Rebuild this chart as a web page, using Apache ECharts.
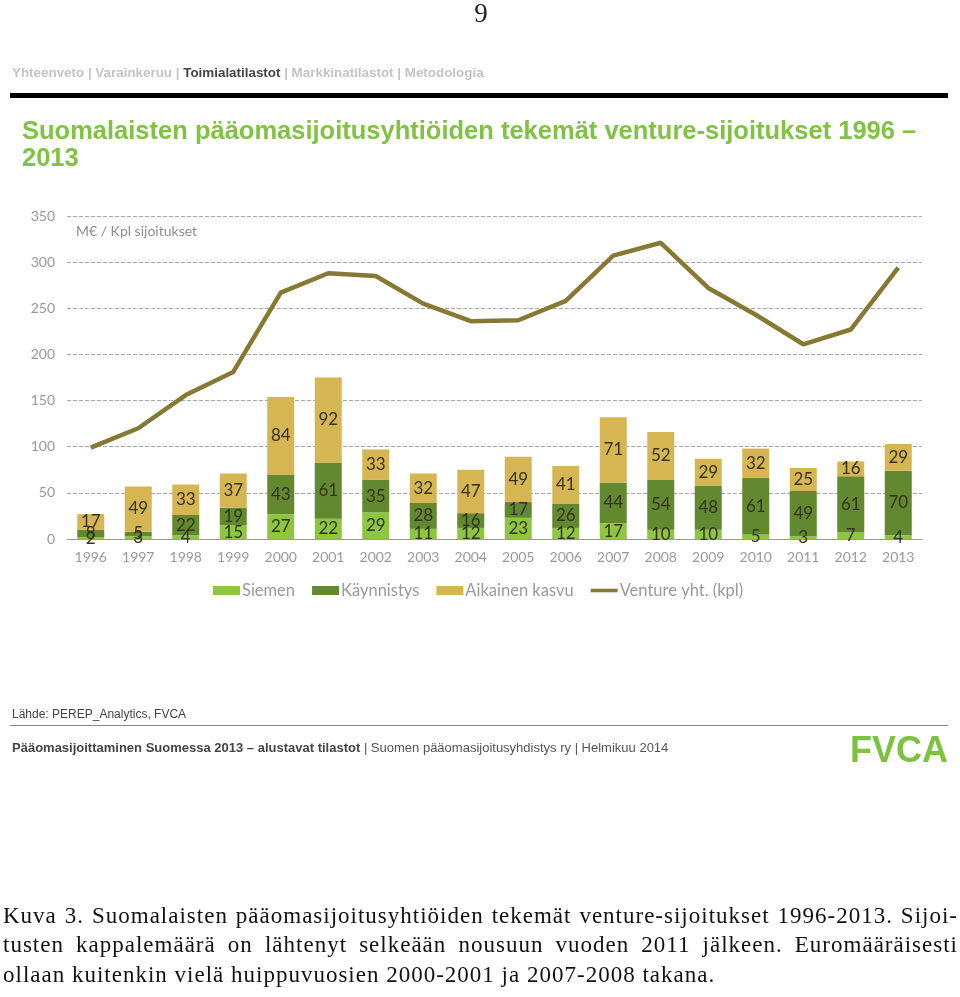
<!DOCTYPE html>
<html>
<head>
<meta charset="utf-8">
<script src="https://cdn.jsdelivr.net/npm/echarts@6/dist/echarts.min.js"></script>
<style>
  html, body { margin: 0; padding: 0; background: #fff; }
  body { width: 960px; height: 997px; position: relative; overflow: hidden; }
  #chart { position: absolute; left: 0; top: 0; width: 960px; height: 997px; }
  .abs { position: absolute; white-space: nowrap; }
  #pagenum { left: 0; width: 962px; text-align: center; top: -2px; font-family: "Liberation Serif", "DejaVu Serif", serif; font-size: 27px; color: #222; }
  #nav { left: 12px; top: 65px; font-family: "Liberation Sans", sans-serif; font-weight: bold; font-size: 13.4px; color: #c4c4c4; }
  #nav b { color: #444; }
  #rule { left: 10px; top: 93px; width: 938px; height: 5px; background: #000; }
  #title { left: 22px; top: 117px; font-family: "Liberation Sans", sans-serif; font-weight: bold; font-size: 25.5px; line-height: 27px; color: #80c342; white-space: normal; width: 930px; }
  #unit { left: 76px; top: 222px; font-family: "Lato", "Liberation Sans", sans-serif; font-size: 14px; color: #8c8c8c; }
  #src { left: 12px; top: 707px; font-family: "Liberation Sans", sans-serif; font-size: 12px; color: #444; }
  #rule2 { left: 10px; top: 725px; width: 938px; height: 1px; background: #888; }
  #foot { left: 12px; top: 740px; font-family: "Liberation Sans", sans-serif; font-size: 13px; color: #555; }
  #foot b { color: #444; }
  #fvca { left: 850px; top: 729px; font-family: "Liberation Sans", sans-serif; font-weight: bold; font-size: 36px; color: #7dc242; }
  .cap { left: 3px; width: 955px; font-family: "Liberation Serif", "DejaVu Serif", serif; font-size: 23px; letter-spacing: 1.0px; color: #111; white-space: nowrap; text-align: justify; text-align-last: justify; }
  .cap.last { text-align-last: left; }
</style>
</head>
<body>
<div id="chart"></div>
<div class="abs" id="pagenum">9</div>
<div class="abs" id="nav">Yhteenveto | Varainkeruu | <b>Toimialatilastot</b> | Markkinatilastot | Metodologia</div>
<div class="abs" id="rule"></div>
<div class="abs" id="title">Suomalaisten pääomasijoitusyhtiöiden tekemät venture-sijoitukset 1996 –<br>2013</div>
<div class="abs" id="unit">M€ / Kpl sijoitukset</div>
<div class="abs" id="src">Lähde: PEREP_Analytics, FVCA</div>
<div class="abs" id="rule2"></div>
<div class="abs" id="foot"><b>Pääomasijoittaminen Suomessa 2013 – alustavat tilastot</b> | Suomen pääomasijoitusyhdistys ry | Helmikuu 2014</div>
<div class="abs" id="fvca">FVCA</div>
<div class="abs cap" style="top:903px;">Kuva 3. Suomalaisten pääomasijoitusyhtiöiden tekemät venture-sijoitukset 1996-2013. Sijoi-</div>
<div class="abs cap" style="top:932px;">tusten kappalemäärä on lähtenyt selkeään nousuun vuoden 2011 jälkeen. Euromääräisesti</div>
<div class="abs cap last" style="top:962px;">ollaan kuitenkin vielä huippuvuosien 2000-2001 ja 2007-2008 takana.</div>
<script>
const years = ['1996','1997','1998','1999','2000','2001','2002','2003','2004','2005','2006','2007','2008','2009','2010','2011','2012','2013'];
const siemen = [2,3,4,15,27,22,29,11,12,23,12,17,10,10,5,3,7,4];
const kaynnistys = [8,5,22,19,43,61,35,28,16,17,26,44,54,48,61,49,61,70];
const aikainenKasvu = [17,49,33,37,84,92,33,32,47,49,41,71,52,29,32,25,16,29];
const ventureKpl = [99,120,156,181,267,288,285,255,236,237,258,307,321,272,243,211,227,294];
const yTicks = { min: 0, max: 350, interval: 50 };
const seriesNames = ['Siemen','Käynnistys','Aikainen kasvu','Venture yht. (kpl)'];

const chart = echarts.init(document.getElementById('chart'), null, { renderer: 'canvas' });
const font = 'Lato, "Liberation Sans", sans-serif';
const barLabel = { show: true, position: 'inside', color: '#35331f', fontSize: 17, fontFamily: font };
function barSeries(name, data, color) {
  return { name, type: 'bar', stack: 'v', data, barWidth: 27, itemStyle: { color }, label: barLabel, z: 2 };
}
chart.setOption({
  animation: false,
  grid: { left: 67, right: 38, top: 216, bottom: 458, containLabel: false },
  legend: {
    left: 208, top: 577, itemWidth: 27, itemHeight: 9, itemGap: 17,
    textStyle: { color: '#9a9a9a', fontSize: 16.5, fontFamily: font, padding: [0, 0, 0, -3] },
    data: [
      { name: seriesNames[0], icon: 'rect' },
      { name: seriesNames[1], icon: 'rect' },
      { name: seriesNames[2], icon: 'rect' },
      { name: seriesNames[3], icon: 'path://M0,0 L30,0 L30,4 L0,4 Z', itemStyle: { color: '#857934' } }
    ]
  },
  xAxis: {
    type: 'category', data: years,
    axisLine: { lineStyle: { color: '#9a9a9a', width: 1 } },
    axisTick: { show: false },
    axisLabel: { color: '#9a9a9a', fontSize: 14, fontFamily: font, margin: 11 }
  },
  yAxis: {
    type: 'value', min: yTicks.min, max: yTicks.max, interval: yTicks.interval,
    axisLine: { show: false }, axisTick: { show: false },
    axisLabel: { color: '#9a9a9a', fontSize: 14, fontFamily: font, margin: 12 },
    splitLine: { lineStyle: { color: '#a8a8a8', type: [4, 2], width: 1 } }
  },
  series: [
    barSeries(seriesNames[0], siemen, '#8fc640'),
    barSeries(seriesNames[1], kaynnistys, '#62892f'),
    barSeries(seriesNames[2], aikainenKasvu, '#d6b653'),
    { name: seriesNames[3], type: 'line', data: ventureKpl, symbol: 'none', showSymbol: false,
      lineStyle: { color: '#857934', width: 4.5 }, itemStyle: { color: '#857934' }, z: 3 }
  ]
});
</script>
</body>
</html>
